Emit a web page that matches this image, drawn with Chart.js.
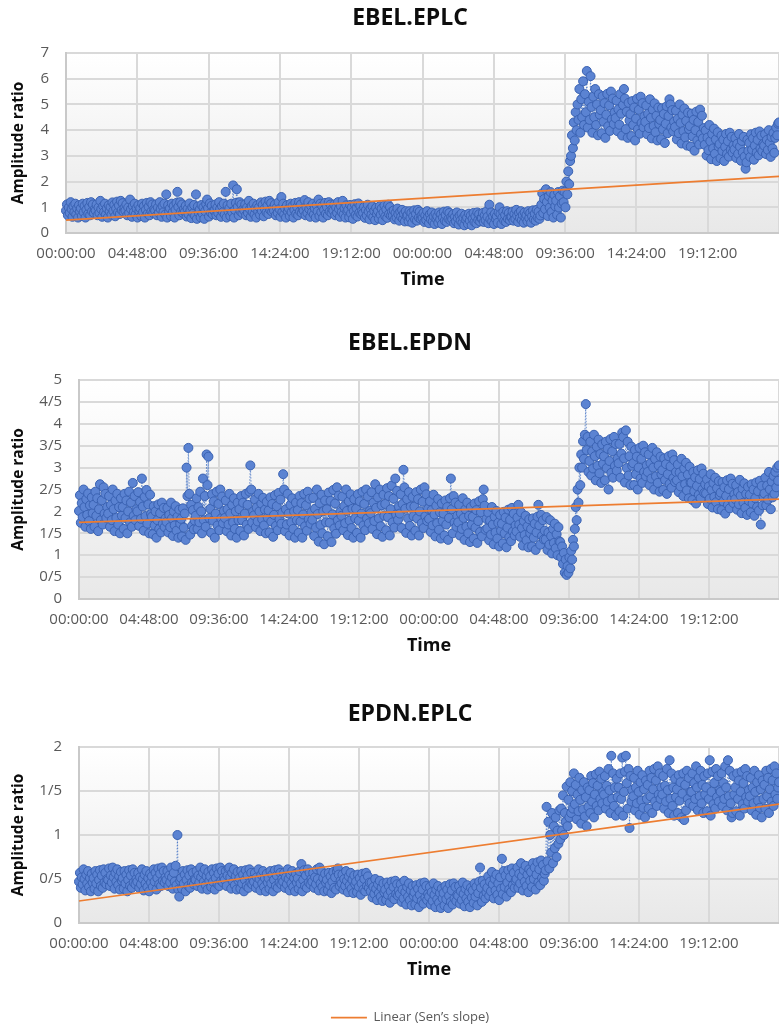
<!DOCTYPE html>
<html>
<head>
<meta charset="utf-8">
<script src="https://cdn.jsdelivr.net/npm/chart.js@4"></script>
<style>
  html, body { margin: 0; padding: 0; background: #fff; }
  body { width: 779px; height: 1027px; overflow: hidden; position: relative; }
  .box { position: absolute; left: 0; }
</style>
</head>
<body>
<div class="box" style="top:0px"><canvas id="c1" width="820" height="295"></canvas></div>
<div class="box" style="top:325px"><canvas id="c2" width="820" height="336"></canvas></div>
<div class="box" style="top:696px"><canvas id="c3" width="820" height="338"></canvas></div>
<script>
// 16 samples per hour, 0 h .. 48 h
const STEP_H = 1 / 16;

const xTickLabels = ['00:00:00', '04:48:00', '09:36:00', '14:24:00', '19:12:00',
                     '00:00:00', '04:48:00', '09:36:00', '14:24:00', '19:12:00', ''];
const yTicks1 = ['0', '1', '2', '3', '4', '5', '6', '7'];
const yTicks2 = ['0', '0/5', '1', '1/5', '2', '2/5', '3', '3/5', '4', '4/5', '5'];
const yTicks3 = ['0', '0/5', '1', '1/5', '2'];

// EBEL.EPLC amplitude ratio (each row = 1 hour)
const ebelEplc = [
  0.87, 1.11, 0.69, 0.99, 0.78, 1.2, 0.93, 0.63, 1.05, 0.81, 1.14, 0.72, 0.96, 0.6, 1.08, 0.84,
  0.96, 0.66, 1.14, 0.81, 1.05, 0.6, 0.9, 1.17, 0.75, 1.02, 0.69, 1.2, 0.84, 1.11, 0.78, 0.93,
  0.87, 1.11, 0.69, 0.99, 0.78, 1.25, 0.93, 0.63, 1.05, 0.81, 1.14, 0.72, 0.96, 0.6, 1.08, 0.84,
  1.01, 0.71, 1.19, 0.86, 1.1, 0.65, 0.95, 1.22, 0.8, 1.07, 0.74, 1.25, 0.89, 1.16, 0.83, 0.98,
  0.87, 1.11, 0.69, 0.99, 0.78, 1.3, 0.93, 0.63, 1.05, 0.81, 1.14, 0.72, 0.96, 0.6, 1.08, 0.84,
  0.96, 0.66, 1.14, 0.81, 1.05, 0.6, 0.9, 1.17, 0.75, 1.02, 0.69, 1.2, 0.84, 1.11, 0.78, 0.93,
  0.87, 1.11, 0.69, 0.99, 0.78, 1.2, 0.93, 0.63, 1.05, 0.81, 1.14, 0.72, 1.5, 0.6, 1.08, 0.84,
  0.96, 0.66, 1.14, 0.81, 1.05, 0.6, 0.9, 1.17, 1.6, 1.02, 0.69, 1.2, 0.84, 1.11, 0.78, 0.93,
  0.82, 1.06, 0.64, 0.94, 0.73, 1.15, 0.88, 0.58, 1.0, 0.76, 1.09, 0.67, 1.5, 0.55, 1.03, 0.79,
  0.91, 0.61, 1.09, 0.76, 1.0, 0.55, 0.85, 1.12, 1.3, 0.97, 0.64, 1.15, 0.79, 1.06, 0.73, 0.88,
  0.87, 1.11, 0.69, 0.99, 0.78, 1.2, 0.93, 0.63, 1.05, 0.81, 1.14, 0.72, 1.6, 0.6, 1.08, 0.84,
  0.96, 0.66, 1.14, 0.81, 1.85, 0.6, 0.9, 1.17, 1.7, 1.02, 0.69, 1.2, 0.84, 1.11, 0.78, 0.93,
  0.87, 1.11, 0.69, 0.99, 0.78, 1.25, 0.93, 0.63, 1.05, 0.81, 1.14, 0.72, 0.96, 0.6, 1.08, 0.84,
  1.01, 0.71, 1.19, 0.86, 1.1, 0.65, 0.95, 1.22, 0.8, 1.07, 0.74, 1.25, 0.89, 1.16, 0.83, 0.98,
  0.87, 1.11, 0.69, 0.99, 0.78, 1.2, 0.93, 0.63, 1.4, 0.81, 1.14, 0.72, 0.96, 0.6, 1.08, 0.84,
  0.96, 0.66, 1.14, 0.81, 1.05, 0.6, 0.9, 1.17, 0.75, 1.02, 0.69, 1.2, 0.84, 1.11, 0.78, 0.93,
  0.87, 1.28, 0.69, 0.99, 0.78, 1.2, 0.93, 0.63, 1.05, 0.81, 1.14, 0.72, 0.96, 0.6, 1.08, 0.84,
  1.3, 0.66, 1.14, 0.81, 1.05, 0.6, 0.9, 1.17, 0.75, 1.02, 0.69, 1.2, 0.84, 1.11, 0.78, 0.93,
  0.87, 1.11, 0.69, 0.99, 0.78, 1.2, 0.93, 0.63, 1.05, 0.81, 1.25, 0.72, 0.96, 0.6, 1.08, 0.84,
  0.91, 0.61, 1.09, 0.76, 1.0, 0.55, 0.85, 1.12, 0.7, 0.97, 0.64, 1.15, 0.79, 1.06, 0.73, 0.88,
  0.77, 1.01, 0.59, 0.89, 0.68, 1.1, 0.83, 0.53, 0.95, 0.71, 1.04, 0.62, 0.86, 0.5, 0.98, 0.74,
  0.86, 0.56, 1.04, 0.71, 0.95, 0.5, 0.8, 1.07, 0.65, 0.92, 0.59, 1.1, 0.74, 1.01, 0.68, 0.83,
  0.68, 0.88, 0.53, 0.78, 0.6, 0.95, 0.73, 0.48, 0.83, 0.63, 0.9, 0.55, 0.75, 0.45, 0.85, 0.65,
  0.7, 0.45, 0.85, 0.58, 0.78, 0.4, 0.65, 0.88, 0.53, 0.75, 0.48, 0.9, 0.6, 0.83, 0.55, 0.68,
  0.58, 0.78, 0.43, 0.68, 0.5, 0.85, 0.63, 0.38, 0.73, 0.53, 0.8, 0.45, 0.65, 0.35, 0.75, 0.55,
  0.65, 0.4, 0.8, 0.53, 0.73, 0.35, 0.6, 0.83, 0.48, 0.7, 0.43, 0.85, 0.55, 0.78, 0.5, 0.63,
  0.53, 0.73, 0.38, 0.63, 0.45, 0.8, 0.58, 0.33, 0.68, 0.48, 0.75, 0.4, 0.6, 0.3, 0.7, 0.5,
  0.6, 0.35, 0.75, 0.48, 0.68, 0.3, 0.55, 0.78, 0.43, 0.65, 0.38, 0.8, 0.5, 0.73, 0.45, 0.58,
  0.58, 0.78, 0.43, 0.68, 0.5, 0.85, 0.63, 0.38, 1.1, 0.53, 0.8, 0.45, 0.65, 0.35, 0.75, 0.55,
  0.65, 0.4, 0.8, 1.0, 0.73, 0.35, 0.6, 0.83, 0.48, 0.7, 0.43, 0.85, 0.55, 0.78, 0.5, 0.63,
  0.63, 0.83, 0.48, 0.73, 0.55, 0.9, 0.68, 0.43, 0.78, 0.58, 0.85, 0.5, 0.7, 0.4, 0.8, 0.6,
  0.7, 0.45, 0.85, 0.58, 0.78, 0.4, 0.65, 0.88, 0.53, 0.75, 0.48, 0.9, 0.6, 0.83, 0.55, 0.68,
  1.1, 1.54, 0.77, 1.32, 0.93, 1.7, 1.21, 0.66, 1.43, 0.99, 1.59, 0.82, 1.26, 0.6, 1.48, 1.04,
  1.26, 0.71, 1.59, 0.99, 1.43, 0.6, 1.15, 1.65, 1.2, 1.6, 1.0, 2.0, 1.5, 2.4, 1.9, 2.8,
  3.0, 3.8, 3.3, 4.3, 3.6, 4.7, 4.0, 5.0, 4.4, 5.6, 3.9, 5.2, 4.5, 5.9, 4.2, 5.4,
  4.7, 6.3, 4.1, 5.1, 4.4, 6.1, 4.9, 3.9, 5.3, 4.5, 5.6, 4.2, 5.0, 3.8, 5.4, 4.6,
  4.78, 3.88, 5.32, 4.33, 5.05, 3.7, 4.6, 5.41, 4.15, 4.96, 3.97, 5.5, 4.42, 5.23, 4.24, 4.69,
  4.47, 5.15, 3.96, 4.81, 4.21, 5.4, 4.64, 3.79, 4.98, 5.6, 5.23, 4.04, 4.72, 3.7, 5.06, 4.38,
  4.62, 3.77, 5.13, 4.2, 4.88, 3.6, 4.45, 5.22, 4.03, 4.79, 3.86, 5.3, 4.28, 5.05, 4.11, 4.54,
  4.32, 4.96, 3.84, 4.64, 4.08, 5.2, 4.48, 3.68, 4.8, 4.16, 5.04, 3.92, 4.56, 3.6, 4.88, 4.24,
  4.4, 3.65, 4.85, 4.03, 4.63, 3.5, 4.25, 4.93, 3.88, 4.55, 5.2, 5.0, 4.1, 4.78, 3.95, 4.33,
  4.12, 4.76, 3.64, 4.44, 3.88, 5.0, 4.28, 3.48, 4.6, 3.96, 4.84, 3.72, 4.36, 3.4, 4.68, 4.04,
  4.16, 3.36, 4.64, 3.76, 4.4, 3.2, 4.0, 4.72, 3.6, 4.32, 3.44, 4.8, 3.84, 4.56, 3.68, 4.08,
  3.43, 3.99, 3.01, 3.71, 3.22, 4.2, 3.57, 2.87, 3.85, 3.29, 4.06, 3.08, 3.64, 2.8, 3.92, 3.36,
  3.46, 2.91, 3.79, 3.19, 3.63, 2.8, 3.35, 3.85, 3.08, 3.57, 2.97, 3.9, 3.24, 3.74, 3.13, 3.41,
  3.25, 3.69, 2.92, 3.47, 3.08, 3.85, 3.36, 2.81, 3.58, 3.14, 3.74, 2.97, 2.5, 2.75, 3.63, 3.19,
  3.51, 2.96, 3.84, 3.24, 3.68, 2.85, 3.4, 3.9, 3.13, 3.62, 3.02, 3.95, 3.29, 3.79, 3.18, 3.46,
  3.4, 3.84, 3.07, 3.62, 3.23, 4.0, 3.51, 2.96, 3.73, 3.29, 3.89, 3.12, 3.7, 4.1, 3.8, 4.25,
  4.3
];

// EBEL.EPDN amplitude ratio (each row = 1 hour)
const ebelEpdn = [
  2.01, 2.37, 1.74, 2.19, 1.87, 2.5, 2.1, 1.65, 2.28, 1.92, 2.41, 1.78, 2.14, 1.6, 2.32, 1.96,
  2.15, 1.65, 2.45, 1.9, 2.3, 1.55, 2.05, 2.62, 1.8, 2.25, 1.7, 2.55, 1.95, 2.4, 1.85, 2.1,
  1.95, 2.35, 1.65, 2.15, 1.8, 2.5, 2.05, 1.55, 2.25, 1.85, 2.4, 1.7, 2.1, 1.5, 2.3, 1.9,
  2.1, 1.6, 2.4, 1.85, 2.25, 1.5, 2.0, 2.45, 1.75, 2.2, 1.65, 2.65, 1.9, 2.35, 1.8, 2.05,
  2.0, 2.44, 1.67, 2.22, 1.83, 2.75, 2.11, 1.56, 2.33, 1.89, 2.49, 1.72, 2.16, 1.5, 2.38, 1.94,
  1.88, 1.48, 2.12, 1.68, 2.0, 1.4, 1.8, 2.16, 1.6, 1.96, 1.52, 2.2, 1.72, 2.08, 1.64, 1.84,
  1.76, 2.08, 1.52, 1.92, 1.64, 2.2, 1.84, 1.44, 2.0, 1.68, 2.12, 1.56, 1.88, 1.4, 2.04, 1.72,
  1.83, 1.43, 2.07, 1.63, 1.95, 1.35, 3.0, 2.35, 3.45, 2.4, 1.47, 2.15, 1.67, 2.03, 1.59, 1.79,
  1.9, 2.3, 1.6, 2.1, 1.75, 2.45, 2.0, 1.5, 2.75, 1.8, 2.35, 1.65, 3.3, 2.6, 3.25, 1.85,
  2.06, 1.51, 2.39, 1.79, 2.23, 1.4, 1.95, 2.45, 1.68, 2.17, 1.57, 2.5, 1.84, 2.34, 1.73, 2.01,
  1.85, 2.25, 1.55, 2.05, 1.7, 2.4, 1.95, 1.45, 2.15, 1.75, 2.3, 1.6, 2.0, 1.4, 2.2, 1.8,
  2.05, 1.55, 2.35, 1.8, 2.2, 1.45, 1.95, 2.4, 1.7, 2.15, 1.6, 2.45, 3.05, 2.5, 1.75, 2.0,
  1.91, 2.27, 1.64, 2.09, 1.77, 2.4, 2.0, 1.55, 2.18, 1.82, 2.31, 1.68, 2.04, 1.5, 2.22, 1.86,
  2.02, 1.52, 2.32, 1.77, 2.17, 1.42, 1.92, 2.37, 1.67, 2.12, 1.57, 2.42, 1.82, 2.27, 1.72, 1.97,
  2.85, 2.5, 1.55, 2.05, 1.7, 2.4, 1.95, 1.45, 2.15, 1.75, 2.3, 1.6, 2.0, 1.4, 2.2, 1.8,
  2.03, 1.51, 2.35, 1.77, 2.19, 1.4, 1.93, 2.4, 1.66, 2.14, 1.56, 2.45, 1.82, 2.29, 1.72, 1.98,
  1.81, 2.31, 1.44, 2.06, 1.63, 2.5, 1.94, 1.31, 2.19, 1.69, 2.38, 1.5, 2.0, 1.25, 2.25, 1.75,
  2.05, 1.43, 2.43, 1.74, 2.24, 1.3, 1.93, 2.49, 1.61, 2.18, 1.49, 2.55, 1.8, 2.36, 1.68, 1.99,
  1.9, 2.34, 1.57, 2.12, 1.73, 2.5, 2.01, 1.46, 2.23, 1.79, 2.39, 1.62, 2.06, 1.4, 2.28, 1.84,
  2.06, 1.51, 2.39, 1.79, 2.23, 1.4, 1.95, 2.45, 1.68, 2.17, 1.57, 2.5, 1.84, 2.34, 1.73, 2.01,
  1.96, 2.44, 1.6, 2.2, 1.78, 2.62, 2.08, 1.48, 2.32, 1.84, 2.5, 1.66, 2.14, 1.42, 2.38, 1.9,
  2.17, 1.57, 2.53, 1.87, 2.35, 1.45, 2.05, 2.59, 1.75, 2.29, 1.63, 2.75, 1.93, 2.47, 1.81, 2.11,
  1.95, 2.39, 1.62, 2.17, 2.95, 2.55, 2.06, 1.51, 2.28, 1.84, 2.44, 1.67, 2.11, 1.45, 2.33, 1.89,
  2.11, 1.56, 2.44, 1.84, 2.28, 1.45, 2.0, 2.5, 1.73, 2.22, 1.62, 2.55, 1.89, 2.39, 1.78, 2.06,
  1.83, 2.23, 1.53, 2.03, 1.68, 2.38, 1.93, 1.43, 2.13, 1.73, 2.28, 1.58, 1.98, 1.38, 2.18, 1.78,
  1.95, 1.45, 2.25, 1.7, 2.1, 1.35, 1.85, 2.3, 2.75, 2.05, 1.5, 2.35, 1.75, 2.2, 1.65, 1.9,
  1.75, 2.15, 1.45, 1.95, 1.6, 2.3, 1.85, 1.35, 2.05, 1.65, 2.2, 1.5, 1.9, 1.3, 2.1, 1.7,
  1.88, 1.38, 2.18, 1.63, 2.03, 1.28, 1.78, 2.23, 1.53, 1.98, 1.43, 2.28, 2.5, 2.13, 1.58, 1.83,
  1.61, 1.97, 1.34, 1.79, 1.47, 2.1, 1.7, 1.25, 1.88, 1.52, 2.01, 1.38, 1.74, 1.2, 1.92, 1.56,
  1.72, 1.27, 1.99, 1.5, 1.86, 1.18, 1.63, 2.04, 1.41, 1.81, 1.32, 2.08, 1.54, 1.95, 1.45, 1.68,
  1.54, 1.86, 2.15, 1.7, 1.42, 1.98, 1.62, 1.22, 1.78, 1.46, 1.9, 1.34, 1.66, 1.18, 1.82, 1.5,
  1.6, 1.2, 1.84, 1.4, 1.72, 1.12, 1.52, 1.88, 2.15, 1.68, 1.24, 1.92, 1.44, 1.8, 1.36, 1.56,
  1.36, 1.87, 1.12, 1.52, 1.24, 1.8, 1.44, 1.04, 1.6, 1.28, 1.72, 1.16, 1.48, 1.0, 1.64, 1.32,
  1.3, 0.95, 1.2, 0.8, 1.05, 0.6, 0.9, 0.55, 0.75, 0.6, 0.95, 0.7, 1.1, 0.9, 1.35, 1.2,
  1.6, 2.1, 1.8, 2.5, 2.2, 3.0, 2.6, 3.3, 3.0, 3.6, 3.2, 3.75, 4.45, 3.4, 3.7, 2.9,
  3.15, 3.59, 2.82, 3.37, 2.98, 3.75, 3.26, 2.71, 3.48, 3.04, 3.64, 2.87, 3.31, 2.65, 3.53, 3.09,
  3.26, 2.71, 3.59, 2.99, 3.43, 2.5, 3.15, 3.65, 2.88, 3.37, 2.77, 3.7, 3.04, 3.54, 2.93, 3.21,
  3.1, 3.54, 2.77, 3.32, 3.8, 3.7, 3.21, 2.66, 3.85, 2.99, 3.59, 2.82, 3.26, 2.6, 3.48, 3.04,
  3.1, 2.6, 3.4, 2.85, 3.25, 2.5, 3.0, 3.45, 2.75, 3.2, 2.65, 3.5, 2.9, 3.35, 2.8, 3.05,
  2.9, 3.3, 2.6, 3.1, 2.75, 3.45, 3.0, 2.5, 3.2, 2.8, 3.35, 2.65, 3.05, 2.45, 3.25, 2.85,
  2.94, 2.49, 3.21, 2.72, 3.08, 2.4, 2.85, 3.26, 2.63, 3.03, 2.54, 3.3, 2.76, 3.17, 2.67, 2.9,
  2.71, 3.07, 2.44, 2.89, 2.57, 3.2, 2.8, 2.35, 2.98, 2.62, 3.11, 2.48, 2.84, 2.3, 3.02, 2.66,
  2.66, 2.26, 2.9, 2.46, 2.78, 2.18, 2.58, 2.94, 2.38, 2.74, 2.3, 2.98, 2.5, 2.86, 2.42, 2.62,
  2.41, 2.73, 2.17, 2.57, 2.29, 2.85, 2.49, 2.09, 2.65, 2.33, 2.77, 2.21, 2.53, 2.05, 2.69, 2.37,
  2.43, 2.03, 2.67, 2.23, 2.55, 1.95, 2.35, 2.71, 2.15, 2.51, 2.07, 2.75, 2.27, 2.63, 2.19, 2.39,
  2.28, 2.6, 2.04, 2.44, 2.16, 2.72, 2.36, 1.96, 2.52, 2.2, 2.64, 2.08, 2.4, 1.92, 2.56, 2.24,
  2.38, 1.98, 2.62, 2.18, 2.5, 1.9, 2.3, 2.66, 2.1, 2.46, 2.02, 2.7, 1.7, 2.58, 2.14, 2.34,
  2.41, 2.77, 2.14, 2.59, 2.27, 2.9, 2.5, 2.05, 2.68, 2.32, 2.81, 2.4, 2.9, 2.55, 3.0, 2.7,
  3.05
];

// EPDN.EPLC amplitude ratio (each row = 1 hour)
const epdnEplc = [
  0.47, 0.57, 0.4, 0.52, 0.44, 0.61, 0.5, 0.37, 0.55, 0.45, 0.59, 0.41, 0.51, 0.36, 0.56, 0.46,
  0.51, 0.39, 0.59, 0.45, 0.55, 0.36, 0.49, 0.6, 0.42, 0.54, 0.4, 0.61, 0.46, 0.57, 0.44, 0.5,
  0.49, 0.62, 0.42, 0.54, 0.46, 0.63, 0.52, 0.39, 0.57, 0.47, 0.61, 0.43, 0.53, 0.38, 0.58, 0.48,
  0.51, 0.39, 0.59, 0.45, 0.55, 0.36, 0.49, 0.6, 0.42, 0.54, 0.4, 0.61, 0.46, 0.57, 0.44, 0.5,
  0.47, 0.57, 0.4, 0.52, 0.44, 0.61, 0.5, 0.37, 0.55, 0.45, 0.59, 0.41, 0.51, 0.36, 0.56, 0.46,
  0.53, 0.41, 0.61, 0.47, 0.57, 0.38, 0.51, 0.62, 0.44, 0.56, 0.42, 0.63, 0.48, 0.59, 0.46, 0.52,
  0.49, 0.59, 0.42, 0.54, 0.46, 0.63, 0.52, 0.39, 0.57, 0.47, 0.65, 0.43, 1.0, 0.38, 0.3, 0.48,
  0.51, 0.39, 0.59, 0.45, 0.55, 0.36, 0.49, 0.6, 0.42, 0.54, 0.4, 0.61, 0.46, 0.57, 0.44, 0.5,
  0.49, 0.59, 0.42, 0.54, 0.46, 0.63, 0.52, 0.39, 0.57, 0.47, 0.61, 0.43, 0.53, 0.38, 0.58, 0.48,
  0.53, 0.41, 0.61, 0.47, 0.57, 0.38, 0.51, 0.62, 0.44, 0.56, 0.42, 0.63, 0.48, 0.59, 0.46, 0.52,
  0.49, 0.59, 0.42, 0.54, 0.62, 0.63, 0.52, 0.39, 0.57, 0.47, 0.61, 0.43, 0.53, 0.38, 0.58, 0.48,
  0.51, 0.39, 0.59, 0.45, 0.55, 0.36, 0.49, 0.6, 0.42, 0.54, 0.4, 0.61, 0.46, 0.57, 0.44, 0.5,
  0.47, 0.57, 0.4, 0.52, 0.44, 0.61, 0.5, 0.37, 0.55, 0.45, 0.59, 0.41, 0.51, 0.36, 0.56, 0.46,
  0.51, 0.39, 0.59, 0.45, 0.55, 0.36, 0.49, 0.6, 0.42, 0.54, 0.4, 0.61, 0.46, 0.57, 0.44, 0.5,
  0.47, 0.57, 0.4, 0.52, 0.44, 0.61, 0.5, 0.37, 0.55, 0.45, 0.59, 0.41, 0.51, 0.36, 0.56, 0.46,
  0.51, 0.39, 0.59, 0.45, 0.67, 0.36, 0.49, 0.6, 0.42, 0.54, 0.4, 0.61, 0.46, 0.57, 0.44, 0.5,
  0.47, 0.57, 0.4, 0.52, 0.44, 0.61, 0.5, 0.37, 0.63, 0.45, 0.59, 0.41, 0.51, 0.36, 0.56, 0.46,
  0.49, 0.37, 0.57, 0.43, 0.53, 0.34, 0.47, 0.58, 0.4, 0.52, 0.38, 0.59, 0.62, 0.55, 0.42, 0.48,
  0.45, 0.55, 0.38, 0.5, 0.42, 0.59, 0.48, 0.35, 0.53, 0.43, 0.57, 0.39, 0.49, 0.34, 0.54, 0.44,
  0.47, 0.35, 0.55, 0.41, 0.51, 0.32, 0.45, 0.56, 0.38, 0.5, 0.36, 0.57, 0.42, 0.53, 0.4, 0.46,
  0.36, 0.46, 0.29, 0.41, 0.33, 0.5, 0.39, 0.26, 0.44, 0.34, 0.48, 0.3, 0.4, 0.25, 0.45, 0.35,
  0.38, 0.26, 0.46, 0.32, 0.42, 0.23, 0.36, 0.47, 0.29, 0.41, 0.27, 0.48, 0.33, 0.44, 0.31, 0.37,
  0.33, 0.44, 0.24, 0.38, 0.28, 0.48, 0.35, 0.21, 0.41, 0.3, 0.45, 0.26, 0.37, 0.2, 0.42, 0.31,
  0.35, 0.21, 0.43, 0.28, 0.39, 0.18, 0.32, 0.45, 0.25, 0.38, 0.22, 0.46, 0.29, 0.42, 0.26, 0.33,
  0.3, 0.41, 0.21, 0.35, 0.25, 0.45, 0.32, 0.18, 0.38, 0.27, 0.42, 0.23, 0.34, 0.17, 0.39, 0.28,
  0.34, 0.2, 0.42, 0.27, 0.38, 0.17, 0.31, 0.44, 0.24, 0.37, 0.21, 0.45, 0.28, 0.41, 0.25, 0.32,
  0.31, 0.42, 0.22, 0.36, 0.26, 0.46, 0.33, 0.19, 0.39, 0.28, 0.43, 0.24, 0.35, 0.18, 0.4, 0.29,
  0.37, 0.23, 0.45, 0.3, 0.41, 0.2, 0.34, 0.47, 0.63, 0.4, 0.24, 0.48, 0.31, 0.44, 0.28, 0.35,
  0.4, 0.53, 0.31, 0.47, 0.36, 0.58, 0.44, 0.28, 0.5, 0.37, 0.55, 0.32, 0.45, 0.26, 0.52, 0.39,
  0.73, 0.33, 0.59, 0.41, 0.54, 0.3, 0.46, 0.6, 0.38, 0.52, 0.35, 0.62, 0.43, 0.57, 0.4, 0.48,
  0.5, 0.63, 0.4, 0.56, 0.45, 0.68, 0.53, 0.37, 0.6, 0.47, 0.65, 0.42, 0.55, 0.35, 0.61, 0.48,
  0.58, 0.41, 0.68, 0.5, 0.63, 0.38, 0.55, 0.69, 0.46, 0.61, 0.43, 0.71, 0.51, 0.66, 0.48, 0.56,
  0.6, 1.32, 0.7, 1.15, 0.62, 1.0, 0.8, 1.25, 0.68, 1.1, 0.85, 1.2, 0.75, 1.05, 0.9, 1.28,
  0.95, 1.3, 1.05, 1.45, 1.0, 1.25, 1.15, 1.55, 1.1, 1.4, 1.2, 1.6, 1.25, 1.5, 1.3, 1.7,
  1.35, 1.57, 1.18, 1.46, 1.27, 1.65, 1.4, 1.13, 1.51, 1.29, 1.6, 1.21, 1.43, 1.1, 1.54, 1.32,
  1.51, 1.25, 1.67, 1.38, 1.59, 1.2, 1.46, 1.69, 1.33, 1.56, 1.28, 1.72, 1.41, 1.64, 1.36, 1.49,
  1.46, 1.67, 1.3, 1.56, 1.38, 1.75, 1.51, 1.25, 1.9, 1.41, 1.7, 1.33, 1.54, 1.22, 1.64, 1.43,
  1.54, 1.27, 1.7, 1.41, 1.88, 1.22, 1.49, 1.72, 1.9, 1.59, 1.3, 1.75, 1.08, 1.67, 1.38, 1.51,
  1.44, 1.65, 1.28, 1.54, 1.36, 1.73, 1.49, 1.23, 1.6, 1.39, 1.68, 1.31, 1.52, 1.2, 1.62, 1.41,
  1.57, 1.3, 1.73, 1.44, 1.65, 1.25, 1.52, 1.75, 1.38, 1.62, 1.33, 1.78, 1.46, 1.7, 1.41, 1.54,
  1.46, 1.67, 1.3, 1.56, 1.38, 1.75, 1.51, 1.25, 1.85, 1.41, 1.7, 1.33, 1.54, 1.22, 1.64, 1.43,
  1.52, 1.25, 1.68, 1.39, 1.6, 1.2, 1.47, 1.7, 1.17, 1.57, 1.28, 1.73, 1.41, 1.65, 1.36, 1.49,
  1.49, 1.7, 1.33, 1.59, 1.41, 1.78, 1.54, 1.28, 1.65, 1.44, 1.73, 1.36, 1.57, 1.25, 1.67, 1.46,
  1.54, 1.27, 1.7, 1.41, 1.85, 1.22, 1.49, 1.72, 1.35, 1.59, 1.3, 1.75, 1.43, 1.67, 1.38, 1.51,
  1.49, 1.7, 1.33, 1.59, 1.41, 1.78, 1.54, 1.28, 1.85, 1.44, 1.73, 1.36, 1.2, 1.25, 1.67, 1.46,
  1.54, 1.27, 1.7, 1.41, 1.62, 1.22, 1.49, 1.72, 1.35, 1.59, 1.3, 1.75, 1.43, 1.67, 1.38, 1.51,
  1.44, 1.65, 1.28, 1.54, 1.36, 1.73, 1.49, 1.23, 1.6, 1.39, 1.68, 1.31, 1.52, 1.2, 1.62, 1.41,
  1.57, 1.3, 1.73, 1.44, 1.65, 1.25, 1.52, 1.75, 1.38, 1.62, 1.33, 1.78, 1.46, 1.7, 1.41, 1.54,
  1.6
];

// Sen's slope trend lines: value at 0 h and at 48 h
const trendHours = [0, 48];
const trendEbelEplc = [0.5, 2.2];
const trendEbelEpdn = [1.75, 2.28];
const trendEpdnEplc = [0.25, 1.35];

const FONT = "'Open Sans', 'DejaVu Sans', sans-serif";
const BLUE_FILL = '#5b83d2';
const BLUE_EDGE = '#3a62b2';
const ORANGE = '#ed7d31';
const RIGHT_CUT = 41; // the original figure is cropped on the right

// light gray gradient behind the plot area, like the Excel original
const plotBg = {
    id: 'plotBg',
    beforeDraw(chart) {
        const { ctx, chartArea: a } = chart;
        const g = ctx.createLinearGradient(0, a.top, 0, a.bottom);
        g.addColorStop(0, '#ffffff');
        g.addColorStop(1, '#e8e8e8');
        ctx.save();
        ctx.fillStyle = g;
        ctx.fillRect(a.left, a.top, a.width, a.height);
        ctx.restore();
    }
};

// title and legend are centred on the uncropped width
const uncropHeader = {
    id: 'uncropHeader',
    afterLayout(chart) {
        if (chart.titleBlock) chart.titleBlock.right += RIGHT_CUT;
        if (chart.legend) chart.legend.right += RIGHT_CUT;
    }
};

function makeChart(id, opt) {
    const points = opt.values.map((v, i) => ({ x: i * STEP_H, y: v }));
    const trend = trendHours.map((h, i) => ({ x: h, y: opt.trend[i] }));
    return new Chart(document.getElementById(id), {
        type: 'scatter',
        data: {
            datasets: [{
                label: 'Linear (Sen\u2019s slope)',
                data: trend,
                showLine: true,
                borderColor: ORANGE,
                backgroundColor: ORANGE,
                borderWidth: 1.75,
                pointRadius: 0,
                order: 0,
                clip: false
            }, {
                label: opt.title,
                data: points,
                showLine: true,
                borderColor: '#4472c4',
                borderWidth: 0.8,
                borderDash: [1.5, 1.5],
                pointRadius: 4.5,
                pointBorderWidth: 1,
                pointBackgroundColor: BLUE_FILL,
                pointBorderColor: BLUE_EDGE,
                order: 1,
                clip: false
            }]
        },
        options: {
            responsive: false,
            animation: false,
            events: [],
            layout: { padding: { left: 0, right: RIGHT_CUT, top: 0, bottom: 0 } },
            plugins: {
                title: {
                    display: true,
                    text: opt.title,
                    color: '#0d0d0d',
                    font: { family: FONT, size: 23, weight: 'bold' },
                    padding: { top: 5, bottom: opt.titleGap }
                },
                legend: {
                    display: !!opt.legend,
                    position: 'bottom',
                    labels: {
                        filter: item => item.datasetIndex === 0,
                        usePointStyle: true,
                        pointStyle: 'line',
                        pointStyleWidth: 36,
                        padding: 26,
                        color: '#595959',
                        font: { family: FONT, size: 13 }
                    }
                },
                tooltip: { enabled: false }
            },
            scales: {
                x: {
                    type: 'linear',
                    min: 0,
                    max: 48,
                    afterFit: s => { s.height = 62; },
                    grid: { color: '#d9d9d9', lineWidth: 2, drawTicks: false },
                    border: { color: '#c9c9c9', width: 2 },
                    ticks: {
                        stepSize: 4.8,
                        autoSkip: false,
                        maxRotation: 0,
                        minRotation: 0,
                        padding: 12,
                        color: '#595959',
                        font: { family: FONT, size: 15 },
                        callback: (v, i) => xTickLabels[i] ?? ''
                    },
                    title: {
                        display: true,
                        text: 'Time',
                        color: '#0d0d0d',
                        font: { family: FONT, size: 18, weight: 'bold' },
                        padding: { top: 7, bottom: 4 }
                    }
                },
                y: {
                    min: 0,
                    max: opt.yMax,
                    afterFit: s => { s.width = opt.axisWidth; },
                    grid: { color: '#d9d9d9', lineWidth: 2, drawTicks: false },
                    border: { color: '#c9c9c9', width: 2 },
                    ticks: {
                        stepSize: opt.yStep,
                        padding: 17,
                        color: '#595959',
                        font: { family: FONT, size: 15 },
                        callback: (v, i) => opt.yLabels[i]
                    },
                    title: {
                        display: true,
                        text: 'Amplitude ratio',
                        color: '#0d0d0d',
                        font: { family: FONT, size: 15.5, weight: 'bold' },
                        padding: { top: 9, bottom: 0 }
                    }
                }
            }
        },
        plugins: [plotBg, uncropHeader]
    });
}

makeChart('c1', { title: 'EBEL.EPLC', values: ebelEplc, trend: trendEbelEplc,
    yMax: 7, yStep: 1, yLabels: yTicks1, axisWidth: 66, titleGap: 20.4 });
makeChart('c2', { title: 'EBEL.EPDN', values: ebelEpdn, trend: trendEbelEpdn,
    yMax: 5, yStep: 0.5, yLabels: yTicks2, axisWidth: 79, titleGap: 22.4 });
makeChart('c3', { title: 'EPDN.EPLC', values: epdnEplc, trend: trendEpdnEplc,
    yMax: 2, yStep: 0.5, yLabels: yTicks3, axisWidth: 79, titleGap: 18.4, legend: true });
</script>
</body>
</html>
